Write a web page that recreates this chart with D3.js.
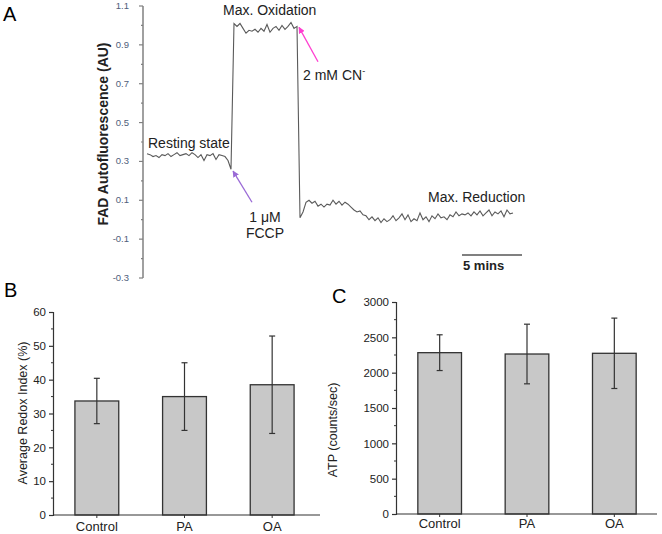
<!DOCTYPE html>
<html>
<head>
<meta charset="utf-8">
<script src="https://cdn.jsdelivr.net/npm/d3@7"></script>
<style>
  body { margin: 0; background: #fff; }
  svg { display: block; font-family: Arial, "Liberation Sans", sans-serif; }
</style>
</head>
<body>
<svg id="fig" width="662" height="534"></svg>
<script>
// ---- data ----
// panel A: FAD trace, one sample every 0.25 min
const traceStep = 0.25;
const traceValues = [
  0.34, 0.335, 0.325, 0.33, 0.32, 0.335, 0.33, 0.34, 0.325, 0.335,
  0.345, 0.33, 0.335, 0.34, 0.33, 0.345, 0.335, 0.32, 0.335, 0.305,
  0.335, 0.33, 0.34, 0.31, 0.335, 0.33, 0.325, 0.305, 0.26,
  1.01, 0.995, 1.01, 0.985, 0.96, 0.975, 0.97, 0.98, 0.965, 0.985,
  0.97, 1.005, 0.965, 0.985, 0.995, 0.975, 1.0, 0.98, 0.995, 1.015,
  0.985, 0.995,
  0.01, 0.04, 0.09, 0.1, 0.085, 0.095, 0.07, 0.08, 0.065, 0.08,
  0.075, 0.1, 0.08, 0.095, 0.075, 0.09, 0.08, 0.065, 0.05, 0.04,
  0.045, 0.025, 0.02, 0.0, 0.015, -0.005, 0.01, -0.015, 0.005, -0.01,
  0.0, 0.02, -0.005, 0.01, 0.03, 0.0, 0.025, -0.01, 0.005, -0.005,
  0.035, 0.0, 0.015, -0.01, 0.02, 0.005, 0.03, 0.01, 0.015, 0.0,
  0.025, 0.015, 0.04, 0.02, 0.03, 0.025, 0.035, 0.02, 0.04, 0.025,
  0.045, 0.02, 0.035, 0.05, 0.02, 0.04, 0.03, 0.045, 0.015, 0.05,
  0.03, 0.035
];
const traceTicks = [1.1, 0.9, 0.7, 0.5, 0.3, 0.1, -0.1, -0.3];
const traceMinorTicks = [1.0, 0.8, 0.6, 0.4, 0.2, 0.0, -0.2];
const scaleBarStart = 26.25, scaleBarMins = 5;

// panel B & C
const groups = ["Control", "PA", "OA"];
const redoxMean = [33.7, 35.0, 38.5];
const redoxErr = [6.7, 10.0, 14.4];
const redoxTicks = [0, 10, 20, 30, 40, 50, 60];
const atpMean = [2283, 2264, 2274];
const atpErr = [253, 422, 498];
const atpTicks = [0, 500, 1000, 1500, 2000, 2500, 3000];

const svg = d3.select("#fig");

// ---------------- Panel A ----------------
const xA = d3.scaleLinear().domain([0, 30.5]).range([147, 513]);
const yA = d3.scaleLinear().domain([-0.3, 1.1]).range([278, 6]);
const gA = svg.append("g");

gA.append("text").attr("x", 3).attr("y", 21).attr("font-size", 20).text("A");

gA.append("line")
  .attr("x1", 143).attr("x2", 143)
  .attr("y1", yA(1.1)).attr("y2", yA(-0.3))
  .attr("stroke", "#808080").attr("stroke-width", 1.5);

gA.selectAll(".majA").data(traceTicks).enter().append("line")
  .attr("x1", 139).attr("x2", 143)
  .attr("y1", d => yA(d)).attr("y2", d => yA(d))
  .attr("stroke", "#808080").attr("stroke-width", 1.2);
gA.selectAll(".minA").data(traceMinorTicks).enter().append("line")
  .attr("x1", 141).attr("x2", 143)
  .attr("y1", d => yA(d)).attr("y2", d => yA(d))
  .attr("stroke", "#808080").attr("stroke-width", 1.2);
gA.selectAll(".lblA").data(traceTicks).enter().append("text")
  .attr("x", 129).attr("y", d => yA(d) + 3)
  .attr("text-anchor", "end").attr("font-size", 9.5).attr("fill", "#50607a")
  .text(d => d.toFixed(1));

gA.append("text")
  .attr("transform", "translate(108,134) rotate(-90)")
  .attr("text-anchor", "middle").attr("font-size", 14).attr("font-weight", "bold")
  .attr("fill", "#222")
  .text("FAD Autofluorescence (AU)");

const line = d3.line()
  .x((d, i) => xA(i * traceStep))
  .y(d => yA(d));
gA.append("path").datum(traceValues)
  .attr("d", line).attr("fill", "none")
  .attr("stroke", "#5a5a5a").attr("stroke-width", 1.1);

// annotations
const defs = svg.append("defs");
[["arrP", "#9a6ad6"], ["arrM", "#ff3fd0"]].forEach(([id, c]) => {
  defs.append("marker").attr("id", id)
    .attr("viewBox", "0 0 10 10").attr("refX", 9).attr("refY", 5)
    .attr("markerWidth", 5).attr("markerHeight", 5).attr("orient", "auto")
    .append("path").attr("d", "M0,0L10,5L0,10z").attr("fill", c);
});
gA.append("line")
  .attr("x1", xA(8.75)).attr("y1", yA(0.09))
  .attr("x2", xA(7.17)).attr("y2", yA(0.25))
  .attr("stroke", "#9a6ad6").attr("stroke-width", 1.3).attr("marker-end", "url(#arrP)");
gA.append("line")
  .attr("x1", xA(14.25)).attr("y1", yA(0.813))
  .attr("x2", xA(12.67)).attr("y2", yA(0.99))
  .attr("stroke", "#ff3fd0").attr("stroke-width", 1.3).attr("marker-end", "url(#arrM)");

const ann = gA.append("g").attr("font-size", 14).attr("fill", "#222");
ann.append("text").attr("x", 223).attr("y", 15).text("Max. Oxidation");
ann.append("text").attr("x", 148).attr("y", 148).text("Resting state");
ann.append("text").attr("x", 265).attr("y", 222).attr("text-anchor", "middle").text("1 μM");
ann.append("text").attr("x", 265).attr("y", 238).attr("text-anchor", "middle").text("FCCP");
const cn = ann.append("text").attr("x", 303).attr("y", 80).text("2 mM CN");
cn.append("tspan").attr("dy", -6).attr("font-size", 9).text("-");
ann.append("text").attr("x", 428).attr("y", 202).text("Max. Reduction");

gA.append("line")
  .attr("x1", xA(scaleBarStart)).attr("x2", xA(scaleBarStart + scaleBarMins))
  .attr("y1", 255).attr("y2", 255)
  .attr("stroke", "#808080").attr("stroke-width", 2);
gA.append("text").attr("x", 463).attr("y", 270)
  .attr("font-size", 13).attr("font-weight", "bold").attr("fill", "#222")
  .text("5 mins");

// ---------------- bar panels ----------------
function barPanel(opt) {
  const g = svg.append("g");
  const x = d3.scaleBand().domain(groups).range(opt.xRange)
    .paddingInner(0.5).paddingOuter(0.25);
  const y = d3.scaleLinear().domain(opt.yDomain).range(opt.yRange);
  const x0 = opt.xRange[0];

  g.append("text").attr("x", opt.letterX).attr("y", opt.letterY)
    .attr("font-size", 20).text(opt.letter);

  // bars
  g.selectAll(".bar").data(groups).enter().append("rect")
    .attr("x", d => x(d)).attr("width", x.bandwidth())
    .attr("y", (d, i) => y(opt.mean[i]))
    .attr("height", (d, i) => y(0) - y(opt.mean[i]))
    .attr("fill", "#c8c8c8").attr("stroke", "#333").attr("stroke-width", 1.3);

  // error bars
  const eb = g.selectAll(".err").data(groups).enter().append("g")
    .attr("stroke", "#333").attr("stroke-width", 1.2);
  eb.append("line")
    .attr("x1", d => x(d) + x.bandwidth() / 2).attr("x2", d => x(d) + x.bandwidth() / 2)
    .attr("y1", (d, i) => y(opt.mean[i] + opt.err[i]))
    .attr("y2", (d, i) => y(opt.mean[i] - opt.err[i]));
  [1, -1].forEach(s => {
    eb.append("line")
      .attr("x1", d => x(d) + x.bandwidth() / 2 - 3).attr("x2", d => x(d) + x.bandwidth() / 2 + 3)
      .attr("y1", (d, i) => y(opt.mean[i] + s * opt.err[i]))
      .attr("y2", (d, i) => y(opt.mean[i] + s * opt.err[i]));
  });

  // axes
  const yAxis = d3.axisLeft(y).tickValues(opt.ticks).tickFormat(d3.format("d"))
    .tickSize(4).tickPadding(3);
  const ga = g.append("g").attr("transform", `translate(${x0},0)`).call(yAxis);
  ga.select(".domain").attr("stroke", "#333").attr("stroke-width", 1.2);
  ga.selectAll(".tick line").attr("stroke", "#333").attr("stroke-width", 1.2);
  ga.selectAll(".tick text").attr("font-size", 11.5).attr("fill", "#222")
    .attr("font-family", "Arial, 'Liberation Sans', sans-serif");
  const minor = d3.range(opt.ticks.length - 1).map(i => (opt.ticks[i] + opt.ticks[i + 1]) / 2);
  g.selectAll(".minor").data(minor).enter().append("line")
    .attr("x1", x0 - 2).attr("x2", x0)
    .attr("y1", d => y(d)).attr("y2", d => y(d))
    .attr("stroke", "#333").attr("stroke-width", 1);

  g.append("line")
    .attr("x1", x0).attr("x2", opt.xEnd)
    .attr("y1", y(0)).attr("y2", y(0))
    .attr("stroke", "#333").attr("stroke-width", 1.2);
  g.selectAll(".xt").data(groups).enter().append("line")
    .attr("x1", d => x(d) + x.bandwidth() / 2).attr("x2", d => x(d) + x.bandwidth() / 2)
    .attr("y1", y(0)).attr("y2", y(0) + 3)
    .attr("stroke", "#333").attr("stroke-width", 1);
  g.selectAll(".xl").data(groups).enter().append("text")
    .attr("x", d => x(d) + x.bandwidth() / 2).attr("y", opt.labelY)
    .attr("text-anchor", "middle").attr("font-size", 13).attr("fill", "#222")
    .text(d => d);

  g.append("text")
    .attr("transform", `translate(${opt.titleX},${opt.titleY}) rotate(-90)`)
    .attr("text-anchor", "middle").attr("font-size", 12.5).attr("fill", "#222")
    .text(opt.title);
}

barPanel({
  letter: "B", letterX: 4, letterY: 297,
  xRange: [53, 316], xEnd: 320,
  yDomain: [0, 60], yRange: [515, 312], ticks: redoxTicks,
  mean: redoxMean, err: redoxErr,
  labelY: 531, title: "Average Redox Index (%)", titleX: 27, titleY: 413
});

barPanel({
  letter: "C", letterX: 332, letterY: 303,
  xRange: [396, 658], xEnd: 657,
  yDomain: [0, 3000], yRange: [514, 302], ticks: atpTicks,
  mean: atpMean, err: atpErr,
  labelY: 528, title: "ATP (counts/sec)", titleX: 337, titleY: 430
});
</script>
</body>
</html>
